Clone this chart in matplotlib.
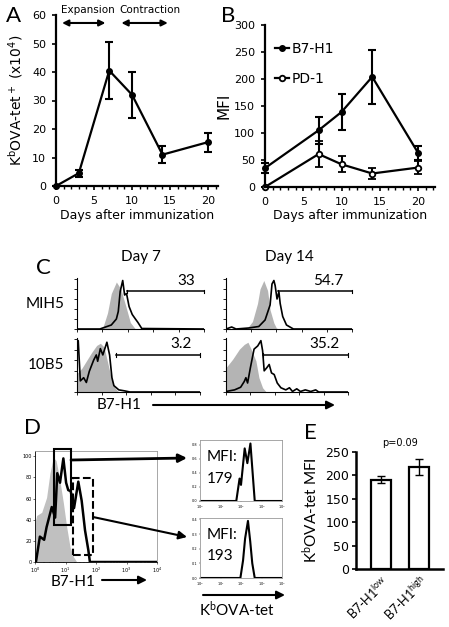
import numpy as np
import matplotlib.pyplot as plt
from matplotlib.patches import Rectangle
from matplotlib.lines import Line2D
from matplotlib.ticker import MultipleLocator, NullFormatter
from matplotlib.transforms import ScaledTranslation

plt.rcParams['font.family'] = 'DejaVu Sans'
plt.rcParams['mathtext.default'] = 'regular'

W, H = 449, 627

# ---- panel A: tetramer+ cells over time
days_a = [0, 3, 7, 10, 14, 20]
tet_a = [0, 4.5, 40.5, 32, 11, 15.4]
tet_a_err = [0, 1.2, 10, 8, 3, 3.3]

# ---- panel B: MFI over time
days_b = [0, 7, 10, 14, 20]
b7h1_mfi = [35, 105, 139, 204, 63]
b7h1_err = [9, 25, 34, 50, 13]
pd1_mfi = [0, 61, 42, 25, 36]
pd1_err = [0, 24, 15, 10, 12]

# ---- panel C: histograms (position along log axis as fraction of range, height)
c_titles = ["Day 7", "Day 14"]
c_rows = ["MIH5", "10B5"]
c_gate_pct = [["33", "54.7"], ["3.2", "35.2"]]
c_gate_start = [[0.39, 0.41], [0.32, 0.30]]
c_gate_level = [[0.76, 0.76], [0.70, 0.70]]

c_iso = [
    [  # MIH5
        ([0, 0.20, 0.24, 0.27, 0.31, 0.345, 0.385, 0.42, 0.46, 1],
         [0, 0, 0.32, 0.71, 0.94, 0.80, 0.45, 0.13, 0, 0]),
        ([0, 0.17, 0.21, 0.25, 0.27, 0.30, 0.33, 0.35, 0.38, 0.40, 0.42, 1],
         [0, 0.02, 0.15, 0.51, 0.80, 0.97, 0.77, 0.38, 0.12, 0.02, 0, 0]),
    ],
    [  # 10B5
        ([0, 0.04, 0.08, 0.12, 0.16, 0.19, 0.22, 0.25, 0.28, 0.31, 0.34, 1],
         [0.35, 0.45, 0.60, 0.75, 0.88, 0.92, 0.85, 0.55, 0.25, 0.07, 0, 0]),
        ([0, 0.055, 0.11, 0.15, 0.18, 0.20, 0.245, 0.27, 0.30, 0.33, 1],
         [0.46, 0.62, 0.81, 0.90, 0.94, 0.84, 0.59, 0.27, 0.08, 0, 0]),
    ],
]
c_stain = [
    [
        ([0, 0.18, 0.27, 0.31, 0.325, 0.34, 0.36, 0.375, 0.39, 0.41, 0.435, 0.46, 0.48, 0.51, 1],
         [0, 0, 0.08, 0.20, 0.35, 0.75, 0.97, 0.68, 0.71, 0.45, 0.29, 0.20, 0.13, 0.01, 0]),
        ([0, 0.045, 0.08, 0.18, 0.26, 0.31, 0.35, 0.365, 0.38, 0.39, 0.405, 0.42, 0.43, 0.45, 0.48, 0.535, 1],
         [0, 0.04, 0, 0.02, 0.05, 0.18, 0.48, 0.90, 0.97, 0.87, 0.60, 0.74, 0.51, 0.25, 0.08, 0, 0]),
    ],
    [
        ([0, 0.01, 0.027, 0.054, 0.076, 0.10, 0.135, 0.157, 0.168, 0.19, 0.21, 0.243, 0.265,
          0.284, 0.30, 0.34, 0.39, 0.43, 1],
         [0.97, 0.97, 0.21, 0.27, 0.18, 0.39, 0.60, 0.70, 0.58, 0.82, 0.70, 0.94, 0.70,
          0.27, 0.12, 0.04, 0.02, 0, 0]),
        ([0, 0.07, 0.12, 0.15, 0.163, 0.177, 0.20, 0.23, 0.26, 0.286, 0.30, 0.313, 0.335, 0.354,
          0.373, 0.395, 0.42, 0.45, 0.49, 0.52, 0.545, 0.58, 0.61, 0.65, 0.695, 0.735, 0.76, 1],
         [0.01, 0.04, 0.09, 0.20, 0.27, 0.17, 0.46, 0.81, 0.87, 0.97, 0.78, 0.40, 0.46, 0.52,
          0.36, 0.33, 0.17, 0.08, 0.04, 0.08, 0.01, 0.06, 0.01, 0.04, 0.01, 0.04, 0, 0]),
    ],
]

# ---- panel D: B7-H1 histogram (log10 fluorescence, % of max)
d_iso_log = [0, 0.055, 0.22, 0.38, 0.49, 0.60, 0.69, 0.80, 0.93, 1.04, 1.15, 1.26, 1.37, 4]
d_iso_cnt = [37, 44, 47, 61, 84, 99, 96, 80, 56, 33, 14, 5, 0, 0]
d_stain_log = [0, 0.03, 0.16, 0.30, 0.38, 0.55, 0.66, 0.73, 0.82, 0.93, 1.02, 1.09, 1.17,
               1.28, 1.42, 1.53, 1.64, 1.75, 1.80, 4]
d_stain_cnt = [0, 0, 24, 21, 33, 52, 42, 84, 75, 98, 75, 68, 67, 51, 76, 58, 30, 11, 0, 0]
d_gate_low = (0.62, 1.18, 35, 107)    # log x0, log x1, y0, y1
d_gate_high = (1.25, 1.90, 6.6, 79)

# tetramer histograms of gated cells
d_tet_low_log = [0, 1.77, 1.93, 2.00, 2.18, 2.31, 2.46, 2.67, 4]
d_tet_low_cnt = [0, 0, 0.32, 0.23, 0.75, 0.54, 0.82, 0, 0]
d_tet_high_log = [0, 1.97, 2.10, 2.20, 2.34, 2.45, 2.55, 2.67, 4]
d_tet_high_cnt = [0, 0, 0.12, 0.27, 0.39, 0.25, 0.10, 0, 0]
d_mfi = ["179", "193"]

# ---- panel E
e_groups = ["B7-H1$^{low}$", "B7-H1$^{high}$"]
e_mfi = [191, 217]
e_err = [8, 17]


def px_rect(l, t, r, b):
    return [l / W, 1 - b / H, (r - l) / W, (b - t) / H]


fig = plt.figure(figsize=(W / 100, H / 100), dpi=100)

# ======== A
axA = fig.add_axes(px_rect(56, 15, 218, 186))
axA.errorbar(days_a, tet_a, yerr=tet_a_err, color='k', lw=1.6, marker='o', ms=4,
             elinewidth=1.5, capsize=3, capthick=1.5, clip_on=False)
axA.set_xlim(0, 21.3)
axA.set_ylim(0, 60)
axA.set_xticks([0, 5, 10, 15, 20])
axA.set_yticks(range(0, 61, 10))
axA.xaxis.set_minor_locator(MultipleLocator(1))
axA.set_xlabel("Days after immunization", fontsize=9, labelpad=2)
axA.set_ylabel("K$^b$OVA-tet$^+$ (x10$^4$)", fontsize=10, labelpad=5)
axA.annotate('', xy=(6.5, 57.2), xytext=(0.8, 57.2),
             arrowprops=dict(arrowstyle='<|-|>', color='k', lw=1.5, mutation_scale=9,
                             shrinkA=0, shrinkB=0))
axA.annotate('', xy=(14.7, 57.2), xytext=(8.6, 57.2),
             arrowprops=dict(arrowstyle='<|-|>', color='k', lw=1.5, mutation_scale=9,
                             shrinkA=0, shrinkB=0))
axA.text(4.2, 61.7, "Expansion", fontsize=7.5, ha='center', va='center')
axA.text(12.3, 61.7, "Contraction", fontsize=7.5, ha='center', va='center')

# ======== B
axB = fig.add_axes(px_rect(265, 25, 435, 187))
axB.errorbar(days_b, b7h1_mfi, yerr=b7h1_err, color='k', lw=1.6, marker='o', ms=4,
             elinewidth=1.5, capsize=3, capthick=1.5, clip_on=False, label="B7-H1")
axB.errorbar(days_b, pd1_mfi, yerr=pd1_err, color='k', lw=1.6, marker='o', ms=4,
             mfc='white', mew=1.3, elinewidth=1.5, capsize=3, capthick=1.5,
             clip_on=False, label="PD-1")
axB.set_xlim(0, 22.2)
axB.set_ylim(0, 300)
axB.set_xticks([0, 5, 10, 15, 20])
axB.set_yticks(range(0, 301, 50))
axB.xaxis.set_minor_locator(MultipleLocator(1))
axB.set_xlabel("Days after immunization", fontsize=9, labelpad=2)
axB.set_ylabel("MFI", fontsize=11, labelpad=2)
handles = [Line2D([], [], color='k', lw=1.6, marker='o', ms=4),
           Line2D([], [], color='k', lw=1.6, marker='o', ms=4, mfc='white', mew=1.3)]
axB.legend(handles, ["B7-H1", "PD-1"], loc='upper left', bbox_to_anchor=(0.06, 0.895),
           frameon=False, fontsize=10, handlelength=1.0, handletextpad=0.2,
           labelspacing=1.15, borderpad=0, borderaxespad=0)

for ax in (axA, axB):
    for s in ('top', 'right'):
        ax.spines[s].set_visible(False)
    for s in ('left', 'bottom'):
        ax.spines[s].set_linewidth(1.6)
    ax.tick_params(which='major', labelsize=8, width=1.2, length=3, pad=4)
    ax.tick_params(which='minor', width=1.0, length=2)

# ======== C
c_boxes = [[(77, 278, 204, 329), (226, 278, 352, 329)],
           [(77, 338, 200, 392), (226, 338, 348, 392)]]
for r in range(2):
    for c in range(2):
        ax = fig.add_axes(px_rect(*c_boxes[r][c]))
        xi, yi = c_iso[r][c]
        xs, ys = c_stain[r][c]
        ax.fill_between(xi, yi, color='#b4b4b4', lw=0)
        ax.plot(xs, ys, color='k', lw=1.2)
        ax.set_xlim(0, 1)
        ax.set_ylim(0, 1.02)
        g0 = c_gate_start[r][c]
        gy = c_gate_level[r][c]
        ax.plot([g0, 1], [gy, gy], color='k', lw=1.1, clip_on=False)
        ax.plot([g0, g0], [gy - 0.03, gy + 0.03], color='k', lw=0.8, clip_on=False)
        ax.plot([1, 1], [gy - 0.03, gy + 0.03], color='k', lw=0.8, clip_on=False)
        ax.text(0.93, gy + 0.07, c_gate_pct[r][c], family='Lato', fontsize=11,
                ha='right', va='bottom')
        for s in ('top', 'right'):
            ax.spines[s].set_visible(False)
        ax.spines['left'].set_linewidth(0.8)
        ax.spines['bottom'].set_linewidth(0.8)
        ax.set_xticks(np.linspace(0, 1, 6))
        ax.set_yticks(np.linspace(0, 1, 6))
        ax.tick_params(length=2, width=0.6, labelbottom=False, labelleft=False)
        if r == 0:
            ax.set_title(c_titles[c], family='Lato', fontsize=11, pad=12)
        if c == 0:
            ax.text(-0.25, 0.5, c_rows[r], family='Lato', fontsize=11, ha='center',
                    va='center', transform=ax.transAxes)

# ======== D
axD = fig.add_axes(px_rect(35, 451, 157, 562))
axD.fill_between(10 ** np.array(d_iso_log), d_iso_cnt, color='#c0c0c0', lw=0)
axD.plot(10 ** np.array(d_stain_log), d_stain_cnt, color='k', lw=1.8)
for (lx0, lx1, y0, y1), ls in ((d_gate_low, '-'), (d_gate_high, '--')):
    axD.add_patch(Rectangle((10 ** lx0, y0), 10 ** lx1 - 10 ** lx0, y1 - y0, fill=False,
                            ec='k', lw=1.5, ls=ls, clip_on=False, zorder=5))
axD.set_xscale('log')
axD.set_xlim(1, 1e4)
axD.set_ylim(0, 105)
axD.set_yticks(range(0, 101, 20))
axD.tick_params(labelsize=3.5, length=1.5, width=0.4, pad=1)
axD.tick_params(which='minor', length=1, width=0.3)
for s in ('top', 'right'):
    axD.spines[s].set_color('#999999')
for s in axD.spines.values():
    s.set_linewidth(0.6)

d_small = [(200, 440, 282, 501), (200, 518, 282, 578)]
d_curves = [(d_tet_low_log, d_tet_low_cnt, 0.87, [0, 0.2, 0.4, 0.6, 0.8]),
            (d_tet_high_log, d_tet_high_cnt, 0.41, [0, 0.1, 0.2, 0.3, 0.4])]
for box, (lx, cnt, ymax, yt), mfi in zip(d_small, d_curves, d_mfi):
    ax = fig.add_axes(px_rect(*box))
    ax.plot(10 ** np.array(lx), cnt, color='k', lw=1.5)
    ax.set_xscale('log')
    ax.set_xlim(1, 1e4)
    ax.set_ylim(0, ymax)
    ax.set_yticks(yt)
    ax.tick_params(labelsize=2.5, length=1, width=0.3, pad=1)
    ax.xaxis.set_minor_formatter(NullFormatter())
    ax.tick_params(which='minor', length=0)
    for s in ax.spines.values():
        s.set_color('#999999')
        s.set_linewidth(0.6)
    ax.text(0.08, 0.72, "MFI:", family='Lato', fontsize=11, transform=ax.transAxes,
            va='center')
    ax.text(0.08, 0.36, mfi, family='Lato', fontsize=11, transform=ax.transAxes,
            va='center')

# ======== E
axE = fig.add_axes(px_rect(356, 452, 443, 569))
xe = np.arange(len(e_mfi))
axE.bar(xe, e_mfi, width=0.53, yerr=e_err, color='white', edgecolor='k', lw=1.6,
        error_kw=dict(elinewidth=1.0, capsize=3, capthick=1.0))
axE.set_xlim(-0.657, 1.63)
axE.set_ylim(0, 250)
axE.set_yticks(range(0, 251, 50))
axE.set_xticks(xe)
axE.set_xticklabels(e_groups, rotation=45, ha='right', rotation_mode='anchor',
                    family='Lato', fontsize=9)
for lab in axE.get_xticklabels():
    lab.set_transform(lab.get_transform() + ScaledTranslation(8 / 72, 0, fig.dpi_scale_trans))
axE.tick_params(axis='x', length=0, pad=3)
axE.tick_params(axis='y', labelsize=9, length=3, width=1.2, pad=2)
axE.set_ylabel("K$^b$OVA-tet MFI", family='Lato', fontsize=11, labelpad=4)
for s in ('top', 'right'):
    axE.spines[s].set_visible(False)
for s in ('left', 'bottom'):
    axE.spines[s].set_linewidth(1.8)
axE.text(0.5, 269, "p=0.09", fontsize=7, ha='center', va='center')

# ======== overlay: panel letters, axis arrows, connectors
ov = fig.add_axes([0, 0, 1, 1], zorder=10)
ov.set_xlim(0, W)
ov.set_ylim(H, 0)
ov.axis('off')
ov.patch.set_visible(False)
for letter, (x, y) in zip("ABCDE", [(14, 16), (228, 16), (43, 268), (32, 428), (310, 433)]):
    ov.text(x, y, letter, family='Lato', fontsize=16, ha='center', va='center')

arr = dict(arrowstyle='-|>', color='k', lw=1.5, mutation_scale=12, shrinkA=0, shrinkB=0)
ov.text(119, 405, "B7-H1", family='Lato', fontsize=11, ha='center', va='center')
ov.annotate('', xy=(335, 405), xytext=(153, 405), arrowprops=arr)
ov.text(73, 582, "B7-H1", family='Lato', fontsize=11, ha='center', va='center')
ov.annotate('', xy=(147, 580), xytext=(102, 580), arrowprops=arr)
ov.text(237, 609, "K$^b$OVA-tet", family='Lato', fontsize=11, ha='center', va='center')
ov.annotate('', xy=(285, 595), xytext=(203, 595), arrowprops=arr)
ov.annotate('', xy=(187, 458), xytext=(71, 460), arrowprops=dict(arr, lw=2))
ov.annotate('', xy=(187, 537), xytext=(93, 517), arrowprops=dict(arr, lw=1.5))

fig.savefig("out.png", dpi=100)
